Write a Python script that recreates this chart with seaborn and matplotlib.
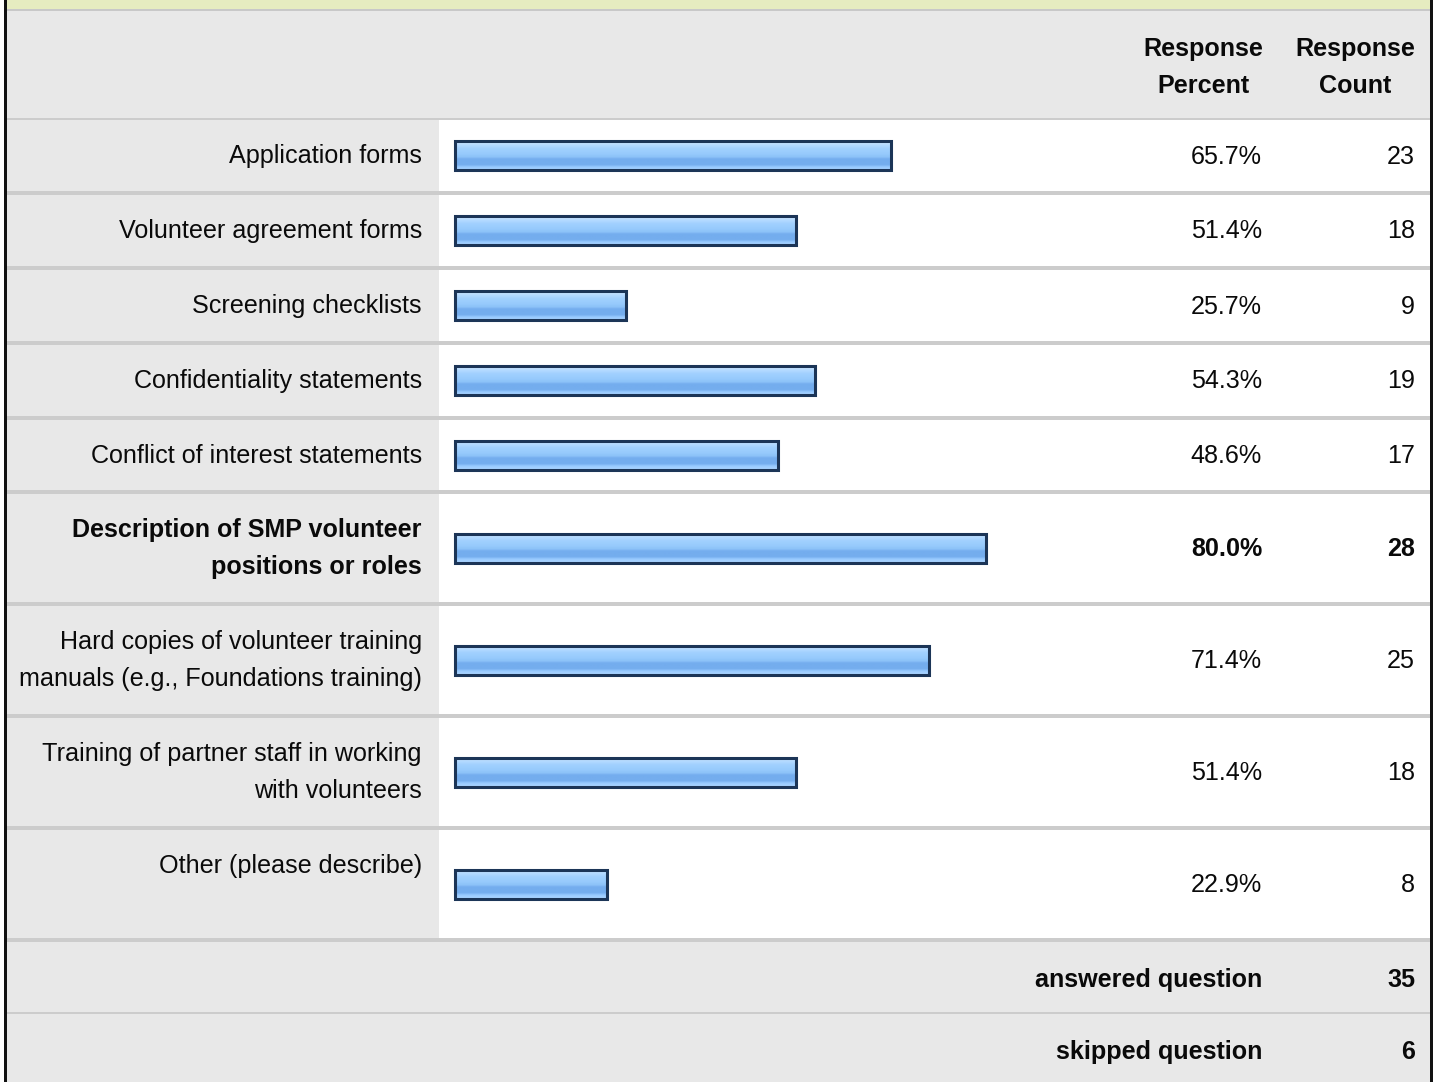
import numpy as np
import pandas as pd
import matplotlib
matplotlib.use("Agg")
import matplotlib.pyplot as plt
from matplotlib.patches import Rectangle
import seaborn as sns

# ---- survey data ----
categories = [
    "Application forms",
    "Volunteer agreement forms",
    "Screening checklists",
    "Confidentiality statements",
    "Conflict of interest statements",
    "Description of SMP volunteer\npositions or roles",
    "Hard copies of volunteer training\nmanuals (e.g., Foundations training)",
    "Training of partner staff in working\nwith volunteers",
    "Other (please describe)",
]
percents = [65.7, 51.4, 25.7, 54.3, 48.6, 80.0, 71.4, 51.4, 22.9]
counts = [23, 18, 9, 19, 17, 28, 25, 18, 8]
bold_rows = [False, False, False, False, False, True, False, False, False]
header_percent = "Response\nPercent"
header_count = "Response\nCount"
summary_labels = ["answered question", "skipped question"]
summary_values = [35, 6]

# ---- layout (pixels) ----
W, H = 1440, 1082
row_heights = [75, 75, 75, 75, 74, 112, 112, 112, 112]
table_top = 120
sep = 4
left_edge, right_edge = 7, 1430
label_col_right = 439
bar_x0_px = 455
px_per_pct = 6.636
bar_px = 29
label_x, pct_x, cnt_x = 422, 1262, 1415
pct_head_x, cnt_head_x = 1203, 1355

FONT = "Liberation Sans"
FS = 18.1
TXT = "#0a0a0a"
GRAY = "#e8e8e8"
LINE = "#cccccc"

sns.set_theme(style="white")
plt.rcParams["font.family"] = [FONT, "DejaVu Sans"]

fig = plt.figure(figsize=(W / 100, H / 100), dpi=100)
fig.patch.set_facecolor("white")

bg = fig.add_axes([0, 0, 1, 1])
bg.set_xlim(0, W)
bg.set_ylim(H, 0)
bg.axis("off")

# top band and header
bg.add_patch(Rectangle((left_edge, 0), right_edge - left_edge, 9, color="#e6ecc0", lw=0))
bg.add_patch(Rectangle((left_edge, 9), right_edge - left_edge, 2, color="#c8c8c8", lw=0))
bg.add_patch(Rectangle((left_edge, 11), right_edge - left_edge, 107, color=GRAY, lw=0))
bg.add_patch(Rectangle((left_edge, 118), right_edge - left_edge, 2, color=LINE, lw=0))

for txt, cx in [(header_percent, pct_head_x), (header_count, cnt_head_x)]:
    for i, line in enumerate(txt.split("\n")):
        bg.text(cx, 49 + i * 37, line, ha="center", va="center",
                fontsize=FS, fontweight="bold", color=TXT)

# data rows
tops = table_top + np.concatenate([[0], np.cumsum(row_heights)[:-1]])
centers = tops + (np.array(row_heights) - sep) / 2.0
for top, h, c, lab, p, n, b in zip(tops, row_heights, centers, categories,
                                    percents, counts, bold_rows):
    bg.add_patch(Rectangle((left_edge, top), label_col_right - left_edge, h - sep,
                           color=GRAY, lw=0))
    bg.add_patch(Rectangle((left_edge, top + h - sep), right_edge - left_edge, sep,
                           color=LINE, lw=0))
    fw = "bold" if b else "normal"
    for i, line in enumerate(lab.split("\n")):
        bg.text(label_x, top + 36 + i * 37, line, ha="right", va="center",
                fontsize=FS, fontweight=fw, color=TXT)
    bg.text(pct_x, c + 1, f"{p:.1f}%", ha="right", va="center",
            fontsize=FS, fontweight=fw, color=TXT)
    bg.text(cnt_x, c + 1, f"{n}", ha="right", va="center",
            fontsize=FS, fontweight=fw, color=TXT)

# summary rows
table_bottom = tops[-1] + row_heights[-1]
bg.add_patch(Rectangle((left_edge, table_bottom), right_edge - left_edge, 1, color=LINE, lw=0))
sum_tops = [table_bottom, table_bottom + 72]
sum_h = [70, H - table_bottom - 72]
for st, sh, lab, v in zip(sum_tops, sum_h, summary_labels, summary_values):
    bg.add_patch(Rectangle((left_edge, st), right_edge - left_edge, sh, color=GRAY, lw=0))
    bg.text(pct_x, st + 38, lab, ha="right", va="center",
            fontsize=FS, fontweight="bold", color=TXT)
    bg.text(cnt_x, st + 38, str(v), ha="right", va="center",
            fontsize=FS, fontweight="bold", color=TXT)
bg.add_patch(Rectangle((left_edge, table_bottom + 70), right_edge - left_edge, 2,
                       color=LINE, lw=0))

# outer frame
for x in (4, 1430):
    bg.add_patch(Rectangle((x, 0), 3, H, color="#111111", lw=0))

# ---- bars ----
ax = fig.add_axes([0, 0, 1, 1])
ax.patch.set_alpha(0)
df = pd.DataFrame({"percent": percents, "row": centers})
width = bar_px / np.min(np.diff(centers))
sns.barplot(data=df, x="percent", y="row", orient="h", native_scale=True,
            width=width, errorbar=None, color="#99ccff", ax=ax)

xlim = (-bar_x0_px / px_per_pct, (W - bar_x0_px) / px_per_pct)

# glossy vertical shading of each bar
stops = np.array([0.0, 0.12, 0.25, 0.45, 0.55, 0.62, 0.82, 0.9, 1.0])
cols = np.array([
    [0xd2, 0xe9, 0xff], [0xb8, 0xdc, 0xff], [0xa2, 0xd1, 0xff],
    [0x96, 0xca, 0xfc], [0x8c, 0xc2, 0xf8], [0x74, 0xad, 0xee],
    [0x74, 0xad, 0xee], [0x98, 0xca, 0xff], [0xa8, 0xd4, 0xff],
]) / 255.0
t = np.linspace(0, 1, 64)
grad = np.stack([np.interp(t, stops, cols[:, k]) for k in range(3)], axis=1)
grad_img = grad[:, None, :]

for patch in list(ax.patches):
    x0, y0 = patch.get_x(), patch.get_y()
    w, h = patch.get_width(), patch.get_height()
    ylo, yhi = min(y0, y0 + h), max(y0, y0 + h)
    im = ax.imshow(grad_img, extent=(x0, x0 + w, yhi, ylo), origin="upper",
                   aspect="auto", interpolation="bilinear", zorder=2)
    im.set_clip_path(patch)
    patch.set_facecolor("none")
    patch.set_edgecolor("#1c3557")
    patch.set_linewidth(2.2)
    patch.set_zorder(3)

ax.set_xlim(*xlim)
ax.set_ylim(H, 0)
ax.axis("off")

fig.savefig("out.png", dpi=100)
